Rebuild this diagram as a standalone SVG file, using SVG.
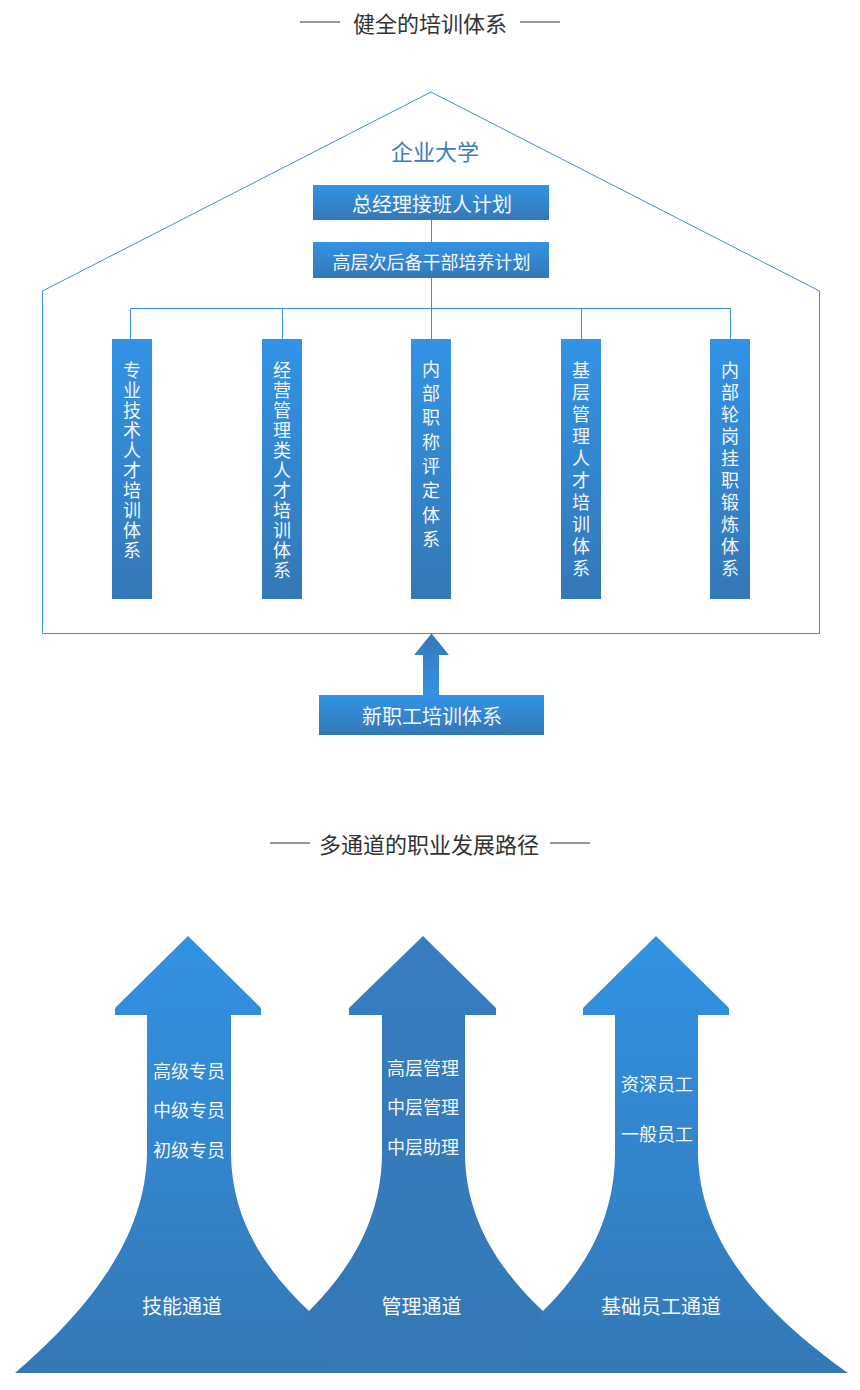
<svg xmlns="http://www.w3.org/2000/svg" width="860" height="1390" viewBox="0 0 860 1390">
<defs>
<linearGradient id="gBox" x1="0" y1="0" x2="0" y2="1">
<stop offset="0" stop-color="#3293e5"/>
<stop offset="1" stop-color="#3478b5"/>
</linearGradient>
<linearGradient id="gUp" x1="0" y1="0" x2="0" y2="1">
<stop offset="0" stop-color="#3478b5"/>
<stop offset="1" stop-color="#3293e5"/>
</linearGradient>
<linearGradient id="gArr" gradientUnits="userSpaceOnUse" x1="0" y1="936" x2="0" y2="1373">
<stop offset="0" stop-color="#3192e3"/>
<stop offset="1" stop-color="#3478b5"/>
</linearGradient>
<linearGradient id="gArr2" gradientUnits="userSpaceOnUse" x1="0" y1="936" x2="0" y2="1373">
<stop offset="0" stop-color="#367ec0"/>
<stop offset="1" stop-color="#3478b5"/>
</linearGradient>
</defs>
<style>
text { font-family: "Noto Sans CJK SC", "Noto Sans", sans-serif; dominant-baseline: central; text-anchor: middle; }
.title { font-size: 22px; fill: #333333; }
.tline { stroke: #333333; stroke-width: 1; }
.house { fill: none; stroke: #3a8fdc; stroke-width: 1; }
.conn { fill: none; stroke: #3a8ee0; stroke-width: 1; }
.box { fill: url(#gBox); }
.wt { fill: #f4f6fa; }
.col { font-size: 18px; fill: #f4f6fa; writing-mode: vertical-rl; text-anchor: start; dominant-baseline: auto; }
.lbl { font-size: 18px; fill: #f4f6fa; }
.chan { font-size: 20px; fill: #f4f6fa; }
</style>
<rect width="860" height="1390" fill="#ffffff"/>

<g id="title1">
<line class="tline" x1="300" y1="22" x2="340" y2="22"/>
<line class="tline" x1="520" y1="22" x2="560" y2="22"/>
<text class="title" x="430" y="22">健全的培训体系</text>
</g>

<g id="house">
<path class="house" d="M431,92 L819.5,291 L819.5,633.5 L42.5,633.5 L42.5,291 Z"/>
<text x="435" y="150" font-size="22" fill="#3a7dc2">企业大学</text>
</g>

<g id="connectors">
<line class="conn" x1="431.5" y1="220" x2="431.5" y2="242"/>
<line class="conn" x1="431.5" y1="278" x2="431.5" y2="339"/>
<polyline class="conn" points="130.5,339 130.5,308.5 730.5,308.5 730.5,339"/>
<line class="conn" x1="282.5" y1="308" x2="282.5" y2="339"/>
<line class="conn" x1="581.5" y1="308" x2="581.5" y2="339"/>
<path d="M423,695 L423,655 L414,655 L431.5,633.5 L449,655 L439,655 L439,695 Z" fill="url(#gUp)"/>
</g>

<g id="box-gm">
<rect class="box" x="313" y="185" width="236" height="35"/>
<text class="wt" x="432" y="203" font-size="20">总经理接班人计划</text>
</g>
<g id="box-senior">
<rect class="box" x="313" y="242" width="236" height="36"/>
<text class="wt" x="431.5" y="261" font-size="18">高层次后备干部培养计划</text>
</g>

<g id="col1">
<rect class="box" x="112" y="339" width="40" height="260"/>
<text class="col" x="132" y="361" letter-spacing="2">专业技术人才培训体系</text>
</g>
<g id="col2">
<rect class="box" x="262" y="339" width="40" height="260"/>
<text class="col" x="282" y="361" letter-spacing="2">经营管理类人才培训体系</text>
</g>
<g id="col3">
<rect class="box" x="411" y="339" width="40" height="260"/>
<text class="col" x="431" y="360" letter-spacing="6.3">内部职称评定体系</text>
</g>
<g id="col4">
<rect class="box" x="561" y="339" width="40" height="260"/>
<text class="col" x="581" y="361" letter-spacing="4">基层管理人才培训体系</text>
</g>
<g id="col5">
<rect class="box" x="710" y="339" width="40" height="260"/>
<text class="col" x="730" y="361" letter-spacing="4">内部轮岗挂职锻炼体系</text>
</g>

<g id="box-new">
<rect class="box" x="319" y="695" width="225" height="40"/>
<text class="wt" x="432" y="715" font-size="20">新职工培训体系</text>
</g>

<g id="title2">
<line class="tline" x1="270" y1="843" x2="310" y2="843"/>
<line class="tline" x1="550" y1="843" x2="590" y2="843"/>
<text class="title" x="429" y="843">多通道的职业发展路径</text>
</g>

<g id="arrow-mgmt">
<path fill="url(#gArr2)" d="M423,936 L496,1008 L496,1015 L465,1015 L465,1155 C466,1215 494,1265 543,1311 L560,1373 L290,1373 L309,1311 C355,1265 381,1215 382,1155 L382,1015 L349,1015 L349,1008 Z"/>
<text class="lbl" x="423" y="1067">高层管理</text>
<text class="lbl" x="423" y="1106">中层管理</text>
<text class="lbl" x="423" y="1146">中层助理</text>
<text class="chan" x="421.5" y="1305">管理通道</text>
</g>

<g id="arrow-skill">
<path fill="url(#gArr)" d="M188,936 L261,1008 L261,1015 L231,1015 L231,1155 C232,1215 260,1265 309,1311 L330,1373 L15,1373 C100,1300 145,1230 147,1155 L147,1015 L115,1015 L115,1008 Z"/>
<text class="lbl" x="189" y="1070">高级专员</text>
<text class="lbl" x="189" y="1109">中级专员</text>
<text class="lbl" x="189" y="1149">初级专员</text>
<text class="chan" x="182" y="1305">技能通道</text>
</g>

<g id="arrow-basic">
<path fill="url(#gArr)" d="M656,936 L729,1008 L729,1015 L698,1015 L698,1155 C700,1230 745,1300 848,1373 L520,1373 L543,1311 C590,1265 614,1215 615,1155 L615,1015 L583,1015 L583,1008 Z"/>
<text class="lbl" x="657" y="1083">资深员工</text>
<text class="lbl" x="657" y="1133">一般员工</text>
<text class="chan" x="661" y="1305">基础员工通道</text>
</g>
</svg>
